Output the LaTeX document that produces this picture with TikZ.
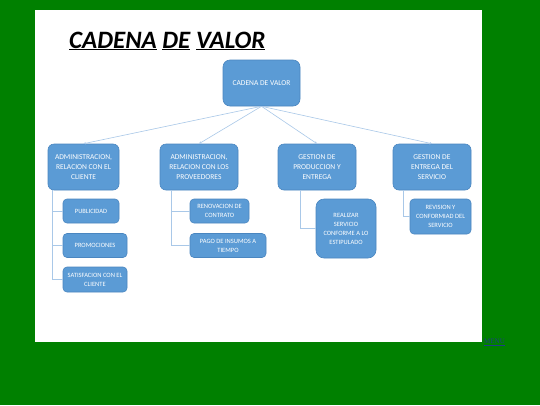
\documentclass[tikz,border=0pt]{standalone}
\usepackage{fontspec}
\setmainfont{Carlito}
\newfontfamily\menufont{Liberation Serif}
\usetikzlibrary{arrows.meta}
\definecolor{bggreen}{HTML}{008000}
\definecolor{boxfill}{HTML}{5B9BD5}
\definecolor{boxline}{HTML}{4A86C0}
\definecolor{connc}{HTML}{A9C8E8}
\definecolor{menublue}{HTML}{1F3C88}
\tikzset{
  box/.style={draw=boxline, line width=0.6pt, fill=boxfill, rounded corners=6pt, text=white, align=center, inner sep=0pt, font=\fontsize{7.5}{10}\selectfont},
  child/.style={box, rounded corners=4pt, font=\fontsize{6.5}{9}\selectfont},
  conn/.style={draw=connc, line width=0.6pt},
  arr/.style={conn, -{Stealth[length=2.5pt,width=2.5pt]}}
}
\begin{document}
\begin{tikzpicture}[x=1pt,y=-1pt]
\useasboundingbox (0,0) rectangle (540,405);
\fill[bggreen] (0,0) rectangle (540,405);
\fill[white] (35,10) rectangle (482,342);
\node[anchor=base west, inner sep=0pt, font=\fontsize{25}{28}\selectfont\bfseries\itshape] (title) at (69,48) {\underline{CADENA} \underline{DE} \underline{VALOR}};
\node[anchor=base west, inner sep=0pt, font=\menufont\fontsize{7}{8}\selectfont, text=menublue] (menu) at (484,343.5) {\underline{MENU}};
% root
\node[box, minimum width=77pt, minimum height=46pt, rounded corners=7pt] (root) at (261.5,83) {CADENA DE VALOR};
% level 1
\node[box, minimum width=71pt, minimum height=46pt] (A) at (83.5,167) {ADMINISTRACION,\\RELACION CON EL\\CLIENTE};
\node[box, minimum width=78pt, minimum height=46pt] (B) at (199,167) {ADMINISTRACION,\\RELACION CON LOS\\PROVEEDORES};
\node[box, minimum width=78pt, minimum height=46pt] (C) at (317,167) {GESTION DE\\PRODUCCION Y\\ENTREGA};
\node[box, minimum width=78pt, minimum height=46pt] (D) at (432,167) {GESTION DE\\ENTREGA DEL\\SERVICIO};
% children
\node[child, minimum width=56pt, minimum height=24pt] (a1) at (91,211) {PUBLICIDAD};
\node[child, minimum width=64pt, minimum height=24pt] (a2) at (95,245.5) {PROMOCIONES};
\node[child, minimum width=64pt, minimum height=25pt] (a3) at (95,279.5) {SATISFACION CON EL\\CLIENTE};
\node[child, minimum width=59pt, minimum height=24pt] (b1) at (219.5,211) {RENOVACION DE\\CONTRATO};
\node[child, minimum width=76pt, minimum height=24pt] (b2) at (228,245.5) {PAGO DE INSUMOS A\\TIEMPO};
\node[child, minimum width=60pt, minimum height=59pt, rounded corners=8pt] (c1) at (346,228.5) {REALIZAR\\SERVICIO\\CONFORME A LO\\ESTIPULADO};
\node[child, minimum width=61pt, minimum height=35pt] (d1) at (440.5,216.5) {REVISION Y\\CONFORMIAD DEL\\SERVICIO};
% connectors
\foreach \n in {A,B,C,D} \draw[arr] (root.south) -- (\n.north);
\draw[conn] ([xshift=5pt]A.south west) |- (a1.west);
\draw[conn] ([xshift=5pt]A.south west) |- (a2.west);
\draw[conn] ([xshift=5pt]A.south west) |- (a3.west);
\draw[conn] ([xshift=12pt]B.south west) |- (b1.west);
\draw[conn] ([xshift=12pt]B.south west) |- (b2.west);
\draw[conn] ([xshift=23pt]C.south west) |- (c1.west);
\draw[conn] ([xshift=11pt]D.south west) |- (d1.west);
\end{tikzpicture}
\end{document}
